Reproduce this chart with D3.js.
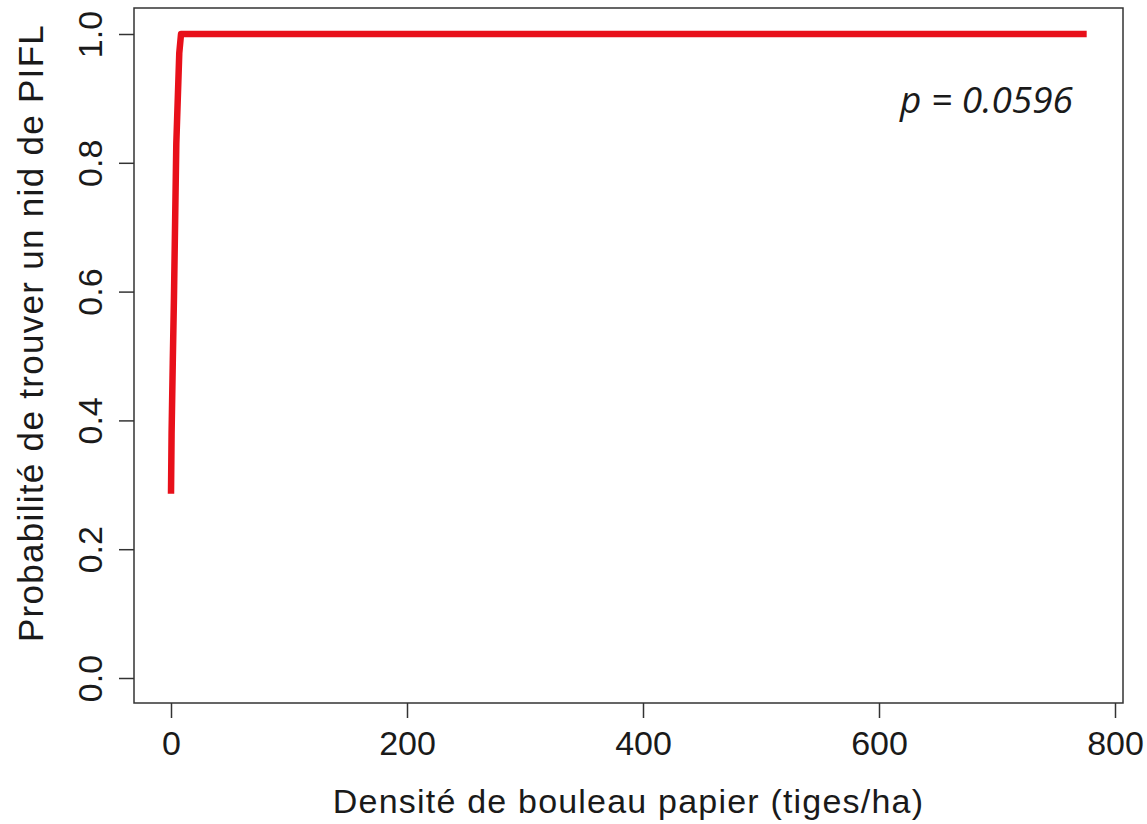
<!DOCTYPE html>
<html>
<head>
<meta charset="utf-8">
<script src="https://cdn.jsdelivr.net/npm/d3@7"></script>
<style>
    body { margin: 0; background: #fff; }
    text { font-family: "Liberation Sans", Arial, sans-serif; fill: #1a1a1a; }
</style>
</head>
<body>
<div class="chart"></div>
<script>
// Data
const density = [0, 0.5, 1.5, 2.5, 4.5, 7, 8.5, 776]
const probability = [0.286, 0.38, 0.49, 0.59, 0.83, 0.97, 1.0, 1.0]
const xTicks = [0, 200, 400, 600, 800]
const yTicks = [0, 0.2, 0.4, 0.6, 0.8, 1.0]
const xTitle = 'Densité de bouleau papier (tiges/ha)'
const yTitle = 'Probabilité de trouver un nid de PIFL'
const note = 'p = 0.0596'

function draw() {
    // Dimensions
    let dimensions = {
        width: 1147,
        height: 824,
        box: { left: 134, top: 8, right: 1123, bottom: 703 }
    }

    const points = density.map((d, i) => ({ x: d, y: probability[i] }))

    const svg = d3.select('.chart')
        .append('svg')
        .attr('width', dimensions.width)
        .attr('height', dimensions.height)

    const xScale = d3.scaleLinear()
        .domain([0, 800])
        .range([171, 1115])

    const yScale = d3.scaleLinear()
        .domain([0, 1])
        .range([678, 34])

    // Axes: ticks only on left and bottom, hanging off the box
    const xAxis = d3.axisBottom(xScale)
        .tickValues(xTicks)
        .tickSize(15)
        .tickPadding(13)
        .tickFormat(d3.format('d'))

    const xAxisGroup = svg.append('g')
        .attr('transform', `translate(0, ${dimensions.box.bottom})`)
        .call(xAxis)
    xAxisGroup.select('.domain').remove()
    xAxisGroup.selectAll('line').attr('stroke', '#333').attr('stroke-width', 1.5)
    xAxisGroup.selectAll('text')
        .style('font-size', '34px')
        .attr('fill', '#1a1a1a')

    const yAxis = d3.axisLeft(yScale)
        .tickValues(yTicks)
        .tickSize(15)
        .tickFormat(d3.format('.1f'))

    const yAxisGroup = svg.append('g')
        .attr('transform', `translate(${dimensions.box.left}, 0)`)
        .call(yAxis)
    yAxisGroup.select('.domain').remove()
    yAxisGroup.selectAll('line').attr('stroke', '#333').attr('stroke-width', 1.5)
    // tick labels turned parallel to the axis, like R
    yAxisGroup.selectAll('text')
        .style('font-size', '34px')
        .attr('fill', '#1a1a1a')
        .attr('x', null)
        .attr('dy', null)
        .attr('text-anchor', 'middle')
        .attr('transform', 'translate(-32, 0) rotate(-90)')

    // Box round the plot region
    svg.append('rect')
        .attr('x', dimensions.box.left)
        .attr('y', dimensions.box.top)
        .attr('width', dimensions.box.right - dimensions.box.left)
        .attr('height', dimensions.box.bottom - dimensions.box.top)
        .attr('fill', 'none')
        .attr('stroke', '#333')
        .attr('stroke-width', 1.5)

    // Fitted curve
    const line = d3.line()
        .x(d => xScale(d.x))
        .y(d => yScale(d.y))

    svg.append('path')
        .datum(points)
        .attr('d', line)
        .attr('fill', 'none')
        .attr('stroke', '#e8101a')
        .attr('stroke-width', 6.5)
        .attr('stroke-linejoin', 'round')

    // Titles
    svg.append('text')
        .attr('x', (dimensions.box.left + dimensions.box.right) / 2)
        .attr('y', 813)
        .attr('text-anchor', 'middle')
        .style('font-size', '34px')
        .style('letter-spacing', '1.2px')
        .text(xTitle)

    svg.append('text')
        .attr('transform', 'translate(43, 333) rotate(-90)')
        .attr('text-anchor', 'middle')
        .style('font-size', '35px')
        .style('letter-spacing', '1.3px')
        .text(yTitle)

    // p-value annotation
    svg.append('text')
        .attr('x', 1073)
        .attr('y', 113)
        .attr('text-anchor', 'end')
        .style('font-family', '"Open Sans", "Noto Sans", sans-serif')
        .style('font-style', 'italic')
        .style('font-size', '37px')
        .text(note)
}

draw()
</script>
</body>
</html>
